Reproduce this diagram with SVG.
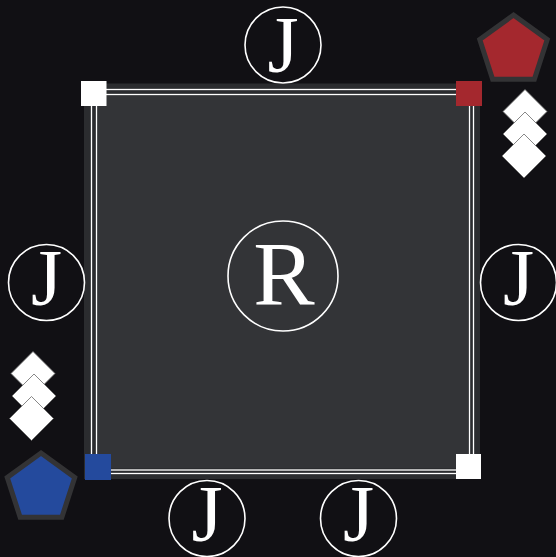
<svg xmlns="http://www.w3.org/2000/svg" width="556" height="557" viewBox="0 0 556 557">
<defs>
<style>
.ring{fill:none;stroke:#ffffff;stroke-width:1.6}
.ltr{fill:#ffffff;font-family:"Liberation Serif","Times New Roman",serif;text-anchor:middle}
.dia{fill:#ffffff;stroke:#6a6a6a;stroke-width:0.8}
.pent{stroke:#333335;stroke-width:5;stroke-linejoin:miter}
.frame{fill:none;stroke:#ffffff;stroke-width:1.3}
</style>
<polygon id="dshape" points="0,-22 22,0 0,22 -22,0"/>
<polygon id="pshape" points="0,-35.5 33.76,-10.97 20.87,28.72 -20.87,28.72 -33.76,-10.97"/>
</defs>
<rect width="556" height="557" fill="#111014"/>
<g id="board">
<rect x="84" y="83.5" width="396" height="395.5" fill="#2b2c2f"/>
<rect x="97" y="95" width="371" height="373" fill="#333437"/>
<rect class="frame" x="91.5" y="89.5" width="382" height="384"/>
<rect class="frame" x="96.5" y="94.5" width="373" height="375.5"/>
</g>
<g id="corners">
<rect x="81" y="81" width="25.5" height="25" fill="#ffffff"/>
<rect x="456" y="81" width="26" height="25" fill="#a4282e"/>
<rect x="85" y="454" width="26" height="26" fill="#244a9d"/>
<rect x="456" y="454" width="25" height="25" fill="#ffffff"/>
</g>
<g id="node-R">
<circle class="ring" cx="283" cy="276" r="55"/>
<text class="ltr" x="284" y="305" font-size="92">R</text>
</g>
<g id="node-J-top">
<circle class="ring" cx="283" cy="45" r="38"/>
<text class="ltr" x="283" y="72" font-size="80">J</text>
</g>
<g id="node-J-left">
<circle class="ring" cx="46.5" cy="282.5" r="38"/>
<text class="ltr" x="46.5" y="305" font-size="80">J</text>
</g>
<g id="node-J-right">
<circle class="ring" cx="518.5" cy="282.5" r="38"/>
<text class="ltr" x="518.5" y="305" font-size="80">J</text>
</g>
<g id="node-J-bottom1">
<circle class="ring" cx="207" cy="518.5" r="38"/>
<text class="ltr" x="207" y="541" font-size="80">J</text>
</g>
<g id="node-J-bottom2">
<circle class="ring" cx="358.5" cy="518.5" r="38"/>
<text class="ltr" x="358.5" y="541" font-size="80">J</text>
</g>
<g id="red-player">
<use href="#pshape" class="pent" fill="#a4282e" x="513.5" y="50.5"/>
<use href="#dshape" class="dia" x="525" y="111.5"/>
<use href="#dshape" class="dia" x="525" y="134"/>
<use href="#dshape" class="dia" x="524" y="156"/>
</g>
<g id="blue-player">
<use href="#pshape" class="pent" fill="#244a9d" x="41" y="488.5"/>
<use href="#dshape" class="dia" x="33" y="373.5"/>
<use href="#dshape" class="dia" x="34" y="396"/>
<use href="#dshape" class="dia" x="31.5" y="418.5"/>
</g>
<g id="connectors"></g>
</svg>
